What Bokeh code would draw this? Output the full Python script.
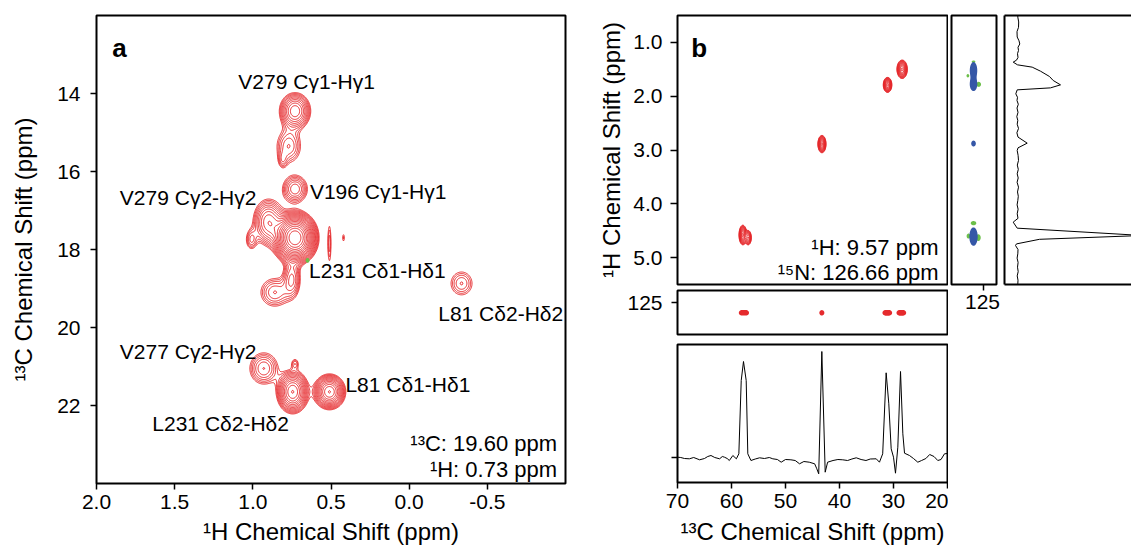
import numpy as np
from bokeh.plotting import figure
from bokeh.layouts import row, column
from bokeh.models import Range1d, FixedTicker, LinearAxis, PrintfTickFormatter
from bokeh.core.properties import value
from bokeh.embed import file_html
from bokeh.resources import INLINE

FONT = "Liberation Sans"
RED = "#e52a2d"
BLUE = "#3557a7"
GREEN = "#6cbf4a"

# ---------------- data: panel a (1H x 13C methyl region) ----------------
a_xticks = [2.0, 1.5, 1.0, 0.5, 0.0, -0.5]
a_yticks = [14, 16, 18, 20, 22]
# peak table: 1H shift, 13C shift, widths, relative height
a_peak_h = [0.73, 0.77, 0.81, 0.73, 0.73, 0.90, 1.01, 0.75, 0.86, 0.51, 0.42, -0.335, 0.93, 0.73, 0.745, 0.51]
a_peak_c = [14.45, 15.35, 15.72, 16.45, 17.70, 17.30, 17.75, 18.75, 19.10, 17.85, 17.70, 18.87, 21.05, 20.92, 21.65, 21.65]
a_peak_sh = [0.053, 0.055, 0.020, 0.050, 0.060, 0.055, 0.025, 0.035, 0.065, 0.010, 0.008, 0.055, 0.060, 0.018, 0.050, 0.050]
a_peak_sc = [0.25, 0.30, 0.15, 0.22, 0.28, 0.33, 0.18, 0.30, 0.26, 0.45, 0.12, 0.24, 0.27, 0.10, 0.27, 0.22]
a_peak_amp = [6.0, 2.5, 1.3, 3.5, 27.0, 5.0, 2.0, 3.0, 2.5, 1.6, 1.25, 2.1, 3.0, 1.5, 9.0, 9.0]
a_neg_h = [0.65]
a_neg_c = [18.28]
a_neg_sh = [0.008]
a_neg_sc = [0.04]
a_neg_amp = [1.0]

a_lab_text = ["V279 Cγ1-Hγ1", "V196 Cγ1-Hγ1", "V279 Cγ2-Hγ2", "L231 Cδ1-Hδ1",
              "L81 Cδ2-Hδ2", "V277 Cγ2-Hγ2", "L81 Cδ1-Hδ1", "L231 Cδ2-Hδ2"]
a_lab_h = [0.656, 0.635, 0.977, 0.64, -0.186, 0.977, 0.408, 0.769]
a_lab_c = [13.70, 16.51, 16.66, 18.54, 19.63, 20.61, 21.46, 22.46]
a_lab_align = ["center", "left", "right", "left", "left", "right", "left", "right"]
a_info_text = ["¹³C: 19.60 ppm", "¹H: 0.73 ppm"]
a_info_h = [-0.946, -0.946]
a_info_c = [22.97, 23.64]

# ---------------- data: panel b ----------------
b_yticks = [1.0, 2.0, 3.0, 4.0, 5.0]
b_xticks = [70, 60, 50, 40, 30, 20]
n_ticks = [125]
# 13C x 1H strip peaks
b_peak_c = [57.9, 56.9, 43.25, 31.1, 28.4]
b_peak_h = [4.58, 4.63, 2.89, 1.79, 1.50]
b_peak_sc = [0.33, 0.30, 0.35, 0.37, 0.45]
b_peak_sh = [0.085, 0.07, 0.075, 0.065, 0.08]
b_peak_amp = [10.0, 6.0, 10.0, 10.0, 10.0]
# 13C x 15N strip peaks
s_peak_c = [58.1, 57.3, 43.27, 31.5, 30.8, 28.9, 28.2]
s_peak_n = [126.66, 126.66, 126.66, 126.66, 126.66, 126.66, 126.66]
s_peak_sc = [0.35, 0.35, 0.30, 0.35, 0.35, 0.35, 0.35]
s_peak_sn = [0.28, 0.28, 0.28, 0.28, 0.28, 0.28, 0.28]
s_peak_amp = [1, 1, 1, 1, 1, 1, 1]
# 15N x 1H strip peaks (blue) and small green features
side_blue_n = [126.66, 126.66, 126.66, 126.66]
side_blue_h = [1.52, 1.78, 2.88, 4.61]
side_blue_sn = [0.40, 0.40, 0.25, 0.45]
side_blue_sh = [0.10, 0.08, 0.035, 0.11]
side_blue_amp = [1, 1, 1, 1]
side_green_n = [126.66, 125.8, 127.6, 126.66, 125.85, 127.5]
side_green_h = [1.36, 1.78, 1.62, 4.36, 4.63, 4.60]
side_green_sn = [0.20, 0.25, 0.15, 0.30, 0.25, 0.20]
side_green_sh = [0.015, 0.03, 0.02, 0.025, 0.04, 0.03]
side_green_amp = [1, 1, 1, 1, 1, 1]

# 1D 13C trace (ppm, intensity)
bottom_trace = [(70.0, 0.3), (69.4, 0.0), (68.7, -1.0), (67.8, -1.3), (67.0, 0.0), (65.9, -2.3),
                (65.0, -1.0), (64.4, 1.0), (63.8, 2.0), (63.1, 0.0), (62.2, -1.3), (61.7, 1.0),
                (61.3, 0.3), (60.8, -1.0), (60.4, -3.0), (59.75, 2.0), (59.1, -1.3), (58.64, 3.7),
                (58.2, 77.0), (57.78, 96.0), (57.28, 77.0), (56.98, 3.7), (56.4, -3.0), (55.6, -1.5),
                (54.8, -0.3), (53.9, -1.0), (53.0, 0.0), (52.35, -1.3), (51.5, -2.0), (50.8, -4.7),
                (50.0, -2.0), (49.0, -2.3), (48.2, -3.0), (47.4, -6.3), (46.6, -4.0), (45.6, -4.7),
                (44.6, -6.3), (44.2, -11.3), (43.85, -16.3), (43.27, 106.0), (42.65, -14.7),
                (42.2, -4.7), (41.2, -3.0), (40.3, -2.0), (39.4, -2.3), (38.5, -3.0), (37.7, -1.5),
                (36.9, -0.3), (36.0, -2.0), (35.1, -3.0), (34.3, -1.5), (33.2, -1.3), (32.6, -4.7),
                (32.0, 3.7), (31.36, 84.7), (30.87, 53.7), (30.43, 8.7), (30.0, 0.3), (29.63, -15.7),
                (29.2, 10.3), (28.7, 86.0), (28.27, 23.7), (27.96, 4.3), (27.04, 2.0), (26.3, -1.0),
                (25.5, -4.7), (24.8, -3.0), (24.0, -1.0), (23.3, 3.0), (22.5, 1.0), (21.8, -3.0),
                (21.2, -2.0), (20.56, 3.7), (20.0, 4.0)]
bottom_c = [c for c, i in bottom_trace]
bottom_i = [i for c, i in bottom_trace]

# 1D 1H trace (ppm, intensity)
right_trace = [(0.50, 0.3), (0.53, 0.3), (0.62, 1.2), (0.72, 1.0), (0.80, -0.5), (0.90, -0.3),
               (0.97, 1.5), (1.03, 2.3), (1.09, 0.5), (1.15, 1.0), (1.21, 0.0), (1.28, 0.5),
               (1.33, -1.0), (1.367, -4.3), (1.417, 0.0), (1.46, 14.7), (1.535, 23.0), (1.634, 32.0),
               (1.708, 35.7), (1.789, 43.0), (1.845, 33.0), (1.882, -0.3), (1.956, -1.7), (2.02, 0.0),
               (2.08, -0.5), (2.15, 0.8), (2.22, -0.5), (2.30, 0.5), (2.38, -0.7), (2.45, 0.3),
               (2.52, -0.3), (2.60, 1.0), (2.68, -0.6), (2.76, 0.5), (2.873, 9.7), (2.96, 0.5),
               (3.01, -0.3), (3.10, 0.6), (3.195, 1.0), (3.28, -0.2), (3.36, 0.8), (3.443, -0.3),
               (3.52, 0.7), (3.60, -0.4), (3.691, 1.0), (3.78, 0.0), (3.86, 0.8), (3.939, 0.3),
               (4.02, -0.4), (4.10, 0.6), (4.186, -0.3), (4.27, 0.5), (4.341, -4.3), (4.453, -0.3),
               (4.589, 125.0), (4.66, 22.0), (4.745, -1.0), (4.775, -2.0), (4.85, 0.5), (4.93, 0.3),
               (5.01, -0.4), (5.09, 0.6), (5.178, 0.0), (5.26, 0.7), (5.34, -0.3), (5.42, 0.5),
               (5.49, 0.3)]
right_h = [h for h, i in right_trace]
right_i = [i for h, i in right_trace]

b_info_text = ["¹H: 9.57 ppm", "¹⁵N: 126.66 ppm"]
b_info_c = [21.67, 21.67]
b_info_h = [4.81, 5.28]


# ---------------- helpers ----------------
def surface(xs, ys, cx, cy, sx, sy, amp):
    X, Y = np.meshgrid(xs, ys)
    Z = np.zeros_like(X)
    for a, b, c, d, e in zip(cx, cy, sx, sy, amp):
        Z += e * np.exp(-0.5 * (((X - a) / c) ** 2 + ((Y - b) / d) ** 2))
    return Z


def base_fig(xr, yr, fw, fh, left, right, top, bottom, x_axis=None, y_axis=None):
    p = figure(x_range=xr, y_range=yr, frame_width=fw, frame_height=fh,
               min_border_left=left, min_border_right=right,
               min_border_top=top, min_border_bottom=bottom,
               x_axis_location=x_axis, y_axis_location=y_axis,
               toolbar_location=None, output_backend="svg", title=None)
    p.grid.visible = False
    p.outline_line_color = "black"
    p.outline_line_width = 2
    p.background_fill_color = "white"
    p.border_fill_color = "white"
    return p


def style_axis(ax, ticks, fmt=None, tick_out=6, standoff=5, label=None, label_standoff=0):
    ax.ticker = FixedTicker(ticks=ticks)
    if fmt:
        ax.formatter = PrintfTickFormatter(format=fmt)
    ax.major_tick_out = tick_out
    ax.major_tick_in = 0
    ax.minor_tick_line_color = None
    ax.major_tick_line_width = 1.5
    ax.major_tick_line_color = "black"
    ax.axis_line_color = None
    ax.major_label_text_font = FONT
    ax.major_label_text_font_size = "21px"
    ax.major_label_text_color = "black"
    ax.major_label_standoff = standoff
    if label:
        ax.axis_label = label
        ax.axis_label_text_font = FONT
        ax.axis_label_text_font_size = "24px"
        ax.axis_label_text_font_style = "normal"
        ax.axis_label_text_color = "black"
        ax.axis_label_standoff = label_standoff


def border_axis(ax):
    ax.ticker = FixedTicker(ticks=[], minor_ticks=[])
    ax.major_tick_out = 0
    ax.major_tick_in = 0
    ax.minor_tick_out = 0
    ax.minor_tick_in = 0
    ax.major_label_standoff = 0
    ax.axis_label_standoff = 0
    ax.minor_tick_line_color = None
    ax.major_tick_line_color = None
    ax.axis_line_color = "black"
    ax.axis_line_width = 2


# ---------------- panel a ----------------
pa = base_fig(Range1d(2.0, -1.0), Range1d(24, 12), 469, 468, 96, 15, 15, 68, "below", "left")
style_axis(pa.xaxis[0], a_xticks, "%.1f", 6, 5, "¹H Chemical Shift (ppm)", 6)
style_axis(pa.yaxis[0], a_yticks, None, 6, 10, "¹³C Chemical Shift (ppm)", 17)

xs_a = np.linspace(-1.0, 2.0, 751)
ys_a = np.linspace(12.0, 24.0, 601)
Za = surface(xs_a, ys_a, a_peak_h, a_peak_c, a_peak_sh, a_peak_sc, a_peak_amp)
a_levels = [1.2 ** k for k in range(18)]
pa.contour(xs_a, ys_a, Za, levels=a_levels, line_color=RED, line_width=1)
Zneg = surface(xs_a, ys_a, a_neg_h, a_neg_c, a_neg_sh, a_neg_sc, a_neg_amp)
pa.contour(xs_a, ys_a, Zneg, levels=[0.3, 100.0], fill_color=GREEN, line_color=None)

pa.text(x=a_lab_h, y=a_lab_c, text=a_lab_text, text_align=a_lab_align, text_baseline="middle",
        text_font=value(FONT), text_font_size="21px", text_color="black")
pa.text(x=a_info_h, y=a_info_c, text=a_info_text, text_align="right", text_baseline="middle",
        text_font=value(FONT), text_font_size="22px", text_color="black")
pa.text(x=[1.90], y=[12.83], text=["a"], text_align="left", text_baseline="alphabetic",
        text_font=value(FONT), text_font_size="26px", text_font_style="bold", text_color="black")

# ---------------- panel b: main 13C-1H plane ----------------
bm = base_fig(Range1d(70, 20), Range1d(5.5, 0.5), 270, 269, 97, 1, 15, 3, None, "left")
style_axis(bm.yaxis[0], b_yticks, "%.1f", 7, 8, "¹H Chemical Shift (ppm)", 5)
xs_b = np.linspace(20.0, 70.0, 501)
ys_b = np.linspace(0.5, 5.5, 501)
Zb = surface(xs_b, ys_b, b_peak_c, b_peak_h, b_peak_sc, b_peak_sh, b_peak_amp)
b_levels = [1.25 ** k for k in range(11)]
bm.contour(xs_b, ys_b, Zb, levels=b_levels, line_color=RED, line_width=1)
bm.text(x=b_info_c, y=b_info_h, text=b_info_text, text_align="right", text_baseline="middle",
        text_font=value(FONT), text_font_size="22px", text_color="black")
bm.text(x=[67.45], y=[1.10], text=["b"], text_align="left", text_baseline="alphabetic",
        text_font=value(FONT), text_font_size="26px", text_font_style="bold", text_color="black")

# ---------------- panel b: 13C-15N strip ----------------
bs = base_fig(Range1d(70, 20), Range1d(130.16, 123.06), 270, 44, 97, 1, 3, 5, None, "left")
style_axis(bs.yaxis[0], n_ticks, None, 6, 9)
ys_s = np.linspace(123.0, 130.3, 147)
Zs = surface(xs_b, ys_s, s_peak_c, s_peak_n, s_peak_sc, s_peak_sn, s_peak_amp)
bs.contour(xs_b, ys_s, Zs, levels=[0.3, 100.0], fill_color=RED, line_color=None)

# ---------------- panel b: 1D 13C trace ----------------
bb = base_fig(Range1d(70, 20), Range1d(-25, 113), 270, 138, 97, 1, 5, 69, "below", "left")
style_axis(bb.xaxis[0], b_xticks, None, 6, 5, "¹³C Chemical Shift (ppm)", 7)
# baseline tick on the left: a minor tick (no label)
bb.yaxis[0].ticker = FixedTicker(ticks=[], minor_ticks=[0])
bb.yaxis[0].minor_tick_out = 6
bb.yaxis[0].minor_tick_in = 0
bb.yaxis[0].minor_tick_line_color = "black"
bb.yaxis[0].minor_tick_line_width = 1.5
bb.yaxis[0].major_tick_line_color = None
bb.yaxis[0].axis_line_color = None
bb.line(x=bottom_c, y=bottom_i, line_color="black", line_width=1)

# ---------------- panel b: 15N-1H strip ----------------
bsd = base_fig(Range1d(130.33, 122.83), Range1d(5.5, 0.5), 45, 269, 3, 4, 15, 40, "below", None)
style_axis(bsd.xaxis[0], n_ticks, None, 6, 4)
xs_n = np.linspace(122.8, 130.4, 153)
Zg = surface(xs_n, ys_b, side_green_n, side_green_h, side_green_sn, side_green_sh, side_green_amp)
bsd.contour(xs_n, ys_b, Zg, levels=[0.3, 100.0], fill_color=GREEN, line_color=None)
Zbl = surface(xs_n, ys_b, side_blue_n, side_blue_h, side_blue_sn, side_blue_sh, side_blue_amp)
bsd.contour(xs_n, ys_b, Zbl, levels=[0.3, 100.0], fill_color=BLUE, line_color=None)

# ---------------- panel b: 1D 1H trace ----------------
br = base_fig(Range1d(-13, 114), Range1d(5.5, 0.5), 127, 269, 4, 0, 15, 3, "below", "left")
br.outline_line_color = None
br.add_layout(LinearAxis(), "above")
for ax in list(br.xaxis) + list(br.yaxis):
    border_axis(ax)
br.line(x=right_i, y=right_h, line_color="black", line_width=1)

layout = row(pa, column(bm, bs, bb), bsd, br)
open("out.html", "w").write(file_html(layout, INLINE))
